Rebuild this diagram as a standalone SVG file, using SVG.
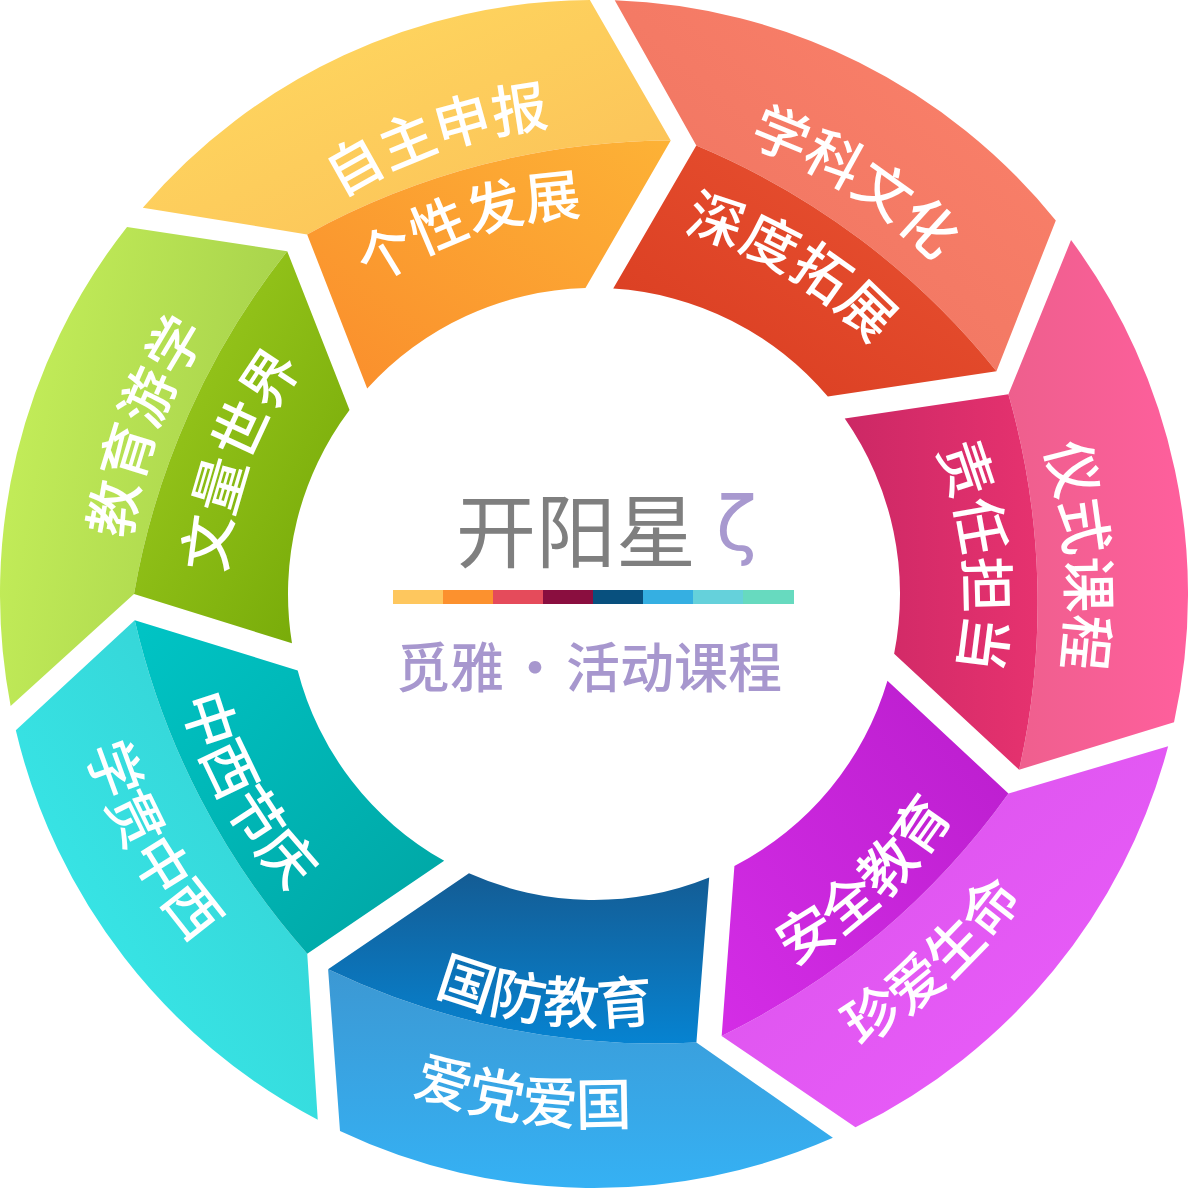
<svg xmlns="http://www.w3.org/2000/svg" width="1188" height="1188" viewBox="0 0 1188 1188">
<style>
  .lbl { font-family: "Noto Sans CJK SC", "Noto Sans", sans-serif; font-size: 56px; font-weight: 500; fill: #ffffff; }
  .ctr { font-family: "Noto Sans CJK SC", "Noto Sans", sans-serif; }
</style>
<defs>
  <linearGradient id="gOrangeO" x1="0" y1="0" x2="1" y2="1"><stop offset="0" stop-color="#FFDB60"/><stop offset="1" stop-color="#FBBF58"/></linearGradient>
  <linearGradient id="gOrangeI" x1="1" y1="0" x2="0" y2="1"><stop offset="0" stop-color="#FDB236"/><stop offset="1" stop-color="#FA8D2C"/></linearGradient>
  <linearGradient id="gRedO" x1="1" y1="0" x2="0" y2="1"><stop offset="0" stop-color="#FC826B"/><stop offset="1" stop-color="#EC725F"/></linearGradient>
  <linearGradient id="gRedI" x1="1" y1="0" x2="0" y2="1"><stop offset="0" stop-color="#EA5434"/><stop offset="1" stop-color="#D83B1F"/></linearGradient>
  <linearGradient id="gPinkO" x1="1" y1="0.5" x2="0" y2="0.5"><stop offset="0" stop-color="#FF5F9D"/><stop offset="1" stop-color="#EE5F8D"/></linearGradient>
  <linearGradient id="gPinkI" x1="1" y1="0.5" x2="0" y2="0.5"><stop offset="0" stop-color="#E6326F"/><stop offset="1" stop-color="#CC2865"/></linearGradient>
  <linearGradient id="gMagI" x1="1" y1="0" x2="0" y2="1"><stop offset="0" stop-color="#BA1DCD"/><stop offset="1" stop-color="#D42DE6"/></linearGradient>
  <linearGradient id="gMagO" x1="0" y1="0" x2="1" y2="1"><stop offset="0" stop-color="#D952EA"/><stop offset="1" stop-color="#EC5EFC"/></linearGradient>
  <linearGradient id="gBlueI" x1="0" y1="0" x2="0" y2="1"><stop offset="0" stop-color="#145C94"/><stop offset="1" stop-color="#0683D1"/></linearGradient>
  <linearGradient id="gBlueO" x1="0" y1="0" x2="0" y2="1"><stop offset="0" stop-color="#3C98D3"/><stop offset="1" stop-color="#35B1F4"/></linearGradient>
  <linearGradient id="gTealI" x1="0" y1="0" x2="1" y2="1"><stop offset="0" stop-color="#00C4C5"/><stop offset="1" stop-color="#00A5A3"/></linearGradient>
  <linearGradient id="gTealO" x1="0" y1="1" x2="1" y2="0"><stop offset="0" stop-color="#38EEEE"/><stop offset="1" stop-color="#35CDD0"/></linearGradient>
  <linearGradient id="gGreenO" x1="0" y1="0" x2="1" y2="0.3"><stop offset="0" stop-color="#C7F15B"/><stop offset="1" stop-color="#A7D24B"/></linearGradient>
  <linearGradient id="gGreenI" x1="0" y1="0" x2="1" y2="1"><stop offset="0" stop-color="#A0CE22"/><stop offset="1" stop-color="#73A706"/></linearGradient>

  <path id="p1" d="M191.13 351.93 A470 470 0 0 1 762.43 155.22"/>
  <path id="p2" d="M270.16 397.10 A379 379 0 0 1 731.67 240.89"/>
  <path id="p3" d="M530.22 122.29 A476 476 0 0 1 1047.47 449.28"/>
  <path id="p4" d="M535.65 225.59 A373 373 0 0 1 946.68 472.56"/>
  <path id="p5" d="M932.08 261.77 A474 474 0 0 1 979.89 869.25"/>
  <path id="p6" d="M853.81 327.76 A372 372 0 0 1 901.31 803.63"/>
  <path id="p7" d="M618.23 1014.30 A421 421 0 0 0 1012.13 643.12"/>
  <path id="p8" d="M617.82 1118.46 A525 525 0 0 0 1114.63 661.62"/>
  <path id="p9" d="M280.03 887.81 A430 430 0 0 0 828.82 954.22"/>
  <path id="p10" d="M199.39 949.31 A531 531 0 0 0 875.39 1044.31"/>
  <path id="p11" d="M176.25 515.82 A425 425 0 0 0 444.47 991.83"/>
  <path id="p12" d="M72.58 493.59 A531 531 0 0 0 404.57 1090.06"/>
  <path id="p13" d="M154.06 750.66 A467 467 0 0 1 363.33 187.95"/>
  <path id="p14" d="M245.95 716.57 A369 369 0 0 1 412.86 272.52"/>
</defs>

<rect x="0" y="0" width="1188" height="1188" fill="#ffffff"/>

<g id="node-orange">
  <path fill="url(#gOrangeO)" d="M142.80 207.66 A594 594 0 0 1 589.86 0.01 L670.72 140.44 A760 760 0 0 0 307.15 234.39 Z"/>
  <path fill="url(#gOrangeI)" d="M307.15 234.39 A760 760 0 0 1 670.72 140.44 L585.46 288.12 A306 306 0 0 0 367.21 388.56 Z"/>
  <text class="lbl" text-anchor="middle"><textPath href="#p1" startOffset="50%">自主申报</textPath></text>
  <text class="lbl" text-anchor="middle"><textPath href="#p2" startOffset="50%">个性发展</textPath></text>
</g>

<g id="node-red">
  <path fill="url(#gRedO)" d="M614.73 0.36 A594 594 0 0 1 1055.81 220.41 L996.44 371.19 A760 760 0 0 0 696.30 145.52 Z"/>
  <path fill="url(#gRedI)" d="M696.30 145.52 A760 760 0 0 1 996.44 371.19 L827.82 396.61 A306 306 0 0 0 613.21 288.60 Z"/>
  <text class="lbl" text-anchor="middle"><textPath href="#p3" startOffset="50%">学科文化</textPath></text>
  <text class="lbl" text-anchor="middle"><textPath href="#p4" startOffset="50%">深度拓展</textPath></text>
</g>

<g id="node-pink">
  <path fill="url(#gPinkO)" d="M1071.05 240.08 A594 594 0 0 1 1174.02 722.13 L1019.12 769.72 A760 760 0 0 0 1008.43 394.36 Z"/>
  <path fill="url(#gPinkI)" d="M1008.43 394.36 A760 760 0 0 1 1019.12 769.72 L894.12 653.74 A306 306 0 0 0 844.75 418.61 Z"/>
  <text class="lbl" text-anchor="middle"><textPath href="#p5" startOffset="50%">仪式课程</textPath></text>
  <text class="lbl" text-anchor="middle"><textPath href="#p6" startOffset="50%">责任担当</textPath></text>
</g>

<g id="node-magenta">
  <path fill="url(#gMagO)" d="M1168.14 746.31 A594 594 0 0 1 855.46 1127.36 L721.67 1035.93 A760 760 0 0 0 1008.47 793.54 Z"/>
  <path fill="url(#gMagI)" d="M1008.47 793.54 A760 760 0 0 1 721.67 1035.93 L734.41 865.88 A306 306 0 0 0 887.46 680.69 Z"/>
  <text class="lbl" text-anchor="middle"><textPath href="#p7" startOffset="50%">安全教育</textPath></text>
  <text class="lbl" text-anchor="middle"><textPath href="#p8" startOffset="50%">珍爱生命</textPath></text>
</g>

<g id="node-blue">
  <path fill="url(#gBlueO)" d="M832.89 1137.84 A594 594 0 0 1 340.01 1130.96 L328.09 969.36 A760 760 0 0 0 696.42 1042.46 Z"/>
  <path fill="url(#gBlueI)" d="M696.42 1042.46 A760 760 0 0 1 328.09 969.36 L468.98 873.30 A306 306 0 0 0 709.20 877.49 Z"/>
  <text class="lbl" text-anchor="middle"><textPath href="#p9" startOffset="50%">国防教育</textPath></text>
  <text class="lbl" text-anchor="middle"><textPath href="#p10" startOffset="50%">爱党爱国</textPath></text>
</g>

<g id="node-teal">
  <path fill="url(#gTealO)" d="M317.75 1119.85 A594 594 0 0 1 15.82 730.22 L134.74 620.13 A760 760 0 0 0 307.24 953.68 Z"/>
  <path fill="url(#gTealI)" d="M307.24 953.68 A760 760 0 0 1 134.74 620.13 L297.69 670.39 A306 306 0 0 0 444.18 860.82 Z"/>
  <text class="lbl" text-anchor="middle"><textPath href="#p11" startOffset="50%">中西节庆</textPath></text>
  <text class="lbl" text-anchor="middle"><textPath href="#p12" startOffset="50%">学贯中西</textPath></text>
</g>

<g id="node-green">
  <path fill="url(#gGreenO)" d="M10.63 705.89 A594 594 0 0 1 127.02 226.90 L287.22 251.23 A760 760 0 0 0 134.00 594.06 Z"/>
  <path fill="url(#gGreenI)" d="M134.00 594.06 A760 760 0 0 1 287.22 251.23 L349.53 409.97 A306 306 0 0 0 291.98 643.22 Z"/>
  <text class="lbl" text-anchor="middle"><textPath href="#p13" startOffset="50%">教育游学</textPath></text>
  <text class="lbl" text-anchor="middle"><textPath href="#p14" startOffset="50%">文量世界</textPath></text>
</g>

<g id="center">
  <text class="ctr" x="576" y="561" text-anchor="middle" font-size="80" fill="#7F7F7F">开阳星</text>
  <text x="716" y="550" font-family="DejaVu Sans, sans-serif" font-size="75" fill="#A899CF">ζ</text>
  <g id="color-bar">
    <rect x="393" y="590" width="50" height="14" fill="#FEC75E"/>
    <rect x="443" y="590" width="50" height="14" fill="#FC912E"/>
    <rect x="493" y="590" width="50" height="14" fill="#E54B5B"/>
    <rect x="543" y="590" width="50" height="14" fill="#8A0E3F"/>
    <rect x="593" y="590" width="50" height="14" fill="#08507E"/>
    <rect x="643" y="590" width="50" height="14" fill="#35AFE2"/>
    <rect x="693" y="590" width="50" height="14" fill="#65D1DB"/>
    <rect x="743" y="590" width="51" height="14" fill="#67DABF"/>
  </g>
  <text class="ctr" x="396" y="688" font-size="54" font-weight="500" fill="#A797CE">觅雅</text>
  <text class="ctr" x="535" y="688" text-anchor="middle" font-size="54" font-weight="500" fill="#A797CE">·</text>
  <text class="ctr" x="566" y="688" font-size="54" font-weight="500" fill="#A797CE">活动课程</text>
</g>
</svg>
